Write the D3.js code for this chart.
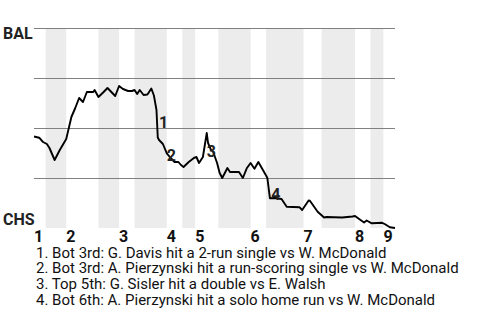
<!DOCTYPE html>
<html>
<head>
<meta charset="utf-8">
<script src="https://cdn.jsdelivr.net/npm/d3@7"></script>
<style>
  body { margin: 0; background: #fff; }
  svg { display: block; font-family: Roboto, sans-serif; }
</style>
</head>
<body>
<div id="chart"></div>
<script>
// x = pitch number through the game, y = BAL win probability
const pitchIdx = [0, 4, 7, 10, 12, 16, 20, 25, 27, 29, 32, 35, 38, 41, 46, 47, 50, 54, 57, 63,
  66, 69, 73, 76, 78, 80, 82, 85, 88, 91, 93, 95, 96, 97, 100, 103, 106, 109, 112, 114,
  116, 120, 124, 126, 128, 131, 134, 135, 137, 139, 142, 144, 146, 150, 152, 159, 162, 165, 168, 171,
  174, 180, 181, 183, 187, 192, 196, 206, 208, 213, 214, 220, 225, 227, 239, 247, 249, 253, 256, 258,
  262, 270, 272, 276, 280];
const winProb = [0.4575, 0.4515, 0.43, 0.42, 0.40, 0.34, 0.39, 0.445, 0.50, 0.555, 0.60, 0.65, 0.63, 0.68, 0.68, 0.69, 0.655, 0.68, 0.70, 0.66,
  0.71, 0.695, 0.685, 0.685, 0.69, 0.67, 0.69, 0.665, 0.6675, 0.6975, 0.6625, 0.59, 0.4525, 0.44, 0.42, 0.3735, 0.35, 0.33, 0.33, 0.315,
  0.305, 0.33, 0.35, 0.355, 0.325, 0.355, 0.475, 0.425, 0.395, 0.38, 0.325, 0.275, 0.25, 0.30, 0.28, 0.28, 0.25, 0.2985, 0.325, 0.2965,
  0.33, 0.2625, 0.25, 0.1485, 0.15, 0.145, 0.1065, 0.1035, 0.09, 0.1375, 0.1365, 0.0815, 0.0525, 0.055, 0.0525, 0.0575, 0.06, 0.041, 0.0275, 0.0375,
  0.0235, 0.026, 0.02, 0.0035, 0];

// half-inning start pitches (top 1st, bot 1st, top 2nd, ...)
const halfStarts = [0, 9, 25, 50, 66, 78, 103, 115, 125, 143, 168, 180, 209, 223, 249, 261, 271];
const totalPitches = 280;
const innings = ['1', '2', '3', '4', '5', '6', '7', '8', '9'];

const gridProbs = [0.25, 0.5, 0.75, 1];
const teamTop = 'BAL';
const teamBottom = 'CHS';

const noteIds = ['1', '2', '3', '4'];
const notePitch = [97, 103, 134, 184];
const noteProb = [0.5, 0.335, 0.3565, 0.14];
const noteTexts = [
  'Bot 3rd: G. Davis hit a 2-run single vs W. McDonald',
  'Bot 3rd: A. Pierzynski hit a run-scoring single vs W. McDonald',
  'Top 5th: G. Sisler hit a double vs E. Walsh',
  'Bot 6th: A. Pierzynski hit a solo home run vs W. McDonald'
];

const width = 480, height = 320;
const margin = {top: 28, right: 85, bottom: 92, left: 34};

const svg = d3.select('#chart').append('svg')
  .attr('width', width)
  .attr('height', height);

const x = d3.scaleLinear()
  .domain([0, totalPitches])
  .range([margin.left, width - margin.right]);
const y = d3.scaleLinear()
  .domain([0, 1])
  .range([height - margin.bottom, margin.top]);

// shaded bottom halves
const bands = [];
for (let i = 1; i < halfStarts.length; i += 2) {
  bands.push([halfStarts[i], halfStarts[i + 1] !== undefined ? halfStarts[i + 1] : totalPitches]);
}
svg.append('g')
  .selectAll('rect')
  .data(bands)
  .join('rect')
  .attr('x', d => x(d[0]))
  .attr('width', d => x(d[1]) - x(d[0]))
  .attr('y', y(1))
  .attr('height', y(0) - y(1))
  .attr('fill', '#ececec');

svg.append('g')
  .selectAll('line')
  .data(gridProbs)
  .join('line')
  .attr('x1', x(0))
  .attr('x2', x(totalPitches))
  .attr('y1', d => Math.round(y(d)) + 0.5)
  .attr('y2', d => Math.round(y(d)) + 0.5)
  .attr('stroke', '#808080')
  .attr('stroke-width', 1.2);

const line = d3.line()
  .x((d, i) => x(pitchIdx[i]))
  .y(d => y(d));

svg.append('path')
  .datum(winProb)
  .attr('fill', 'none')
  .attr('stroke', '#000')
  .attr('stroke-width', 1.9)
  .attr('stroke-linejoin', 'round')
  .attr('d', line);

// team labels
svg.append('text')
  .attr('x', 3)
  .attr('y', y(1) + 11)
  .attr('font-size', 16)
  .attr('font-weight', 'bold')
  .attr('fill', '#222')
  .text(teamTop);
svg.append('text')
  .attr('x', 3)
  .attr('y', y(0) - 3)
  .attr('font-size', 16)
  .attr('font-weight', 'bold')
  .attr('fill', '#222')
  .text(teamBottom);

// inning numbers at the start of each top half
svg.append('g')
  .selectAll('text')
  .data(innings)
  .join('text')
  .attr('x', (d, i) => x(halfStarts[i * 2]))
  .attr('y', y(0) + 14)
  .attr('font-size', 16)
  .attr('font-weight', 'bold')
  .attr('fill', '#111')
  .text(d => d);

// event markers
svg.append('g')
  .selectAll('text')
  .data(noteIds)
  .join('text')
  .attr('x', (d, i) => x(notePitch[i]))
  .attr('y', (d, i) => y(noteProb[i]))
  .attr('font-size', 16)
  .attr('font-weight', 'bold')
  .attr('fill', '#222')
  .text(d => d);

svg.append('g')
  .selectAll('text')
  .data(noteTexts)
  .join('text')
  .attr('x', 36)
  .attr('y', (d, i) => 257.7 + i * 15.75)
  .attr('font-size', 15)
  .attr('fill', '#111')
  .text((d, i) => `${noteIds[i]}. ${d}`);
</script>
</body>
</html>
